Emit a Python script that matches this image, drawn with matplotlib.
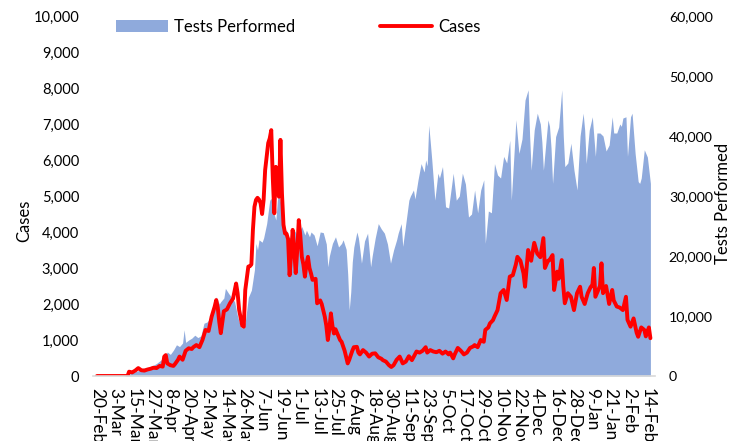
import matplotlib
matplotlib.use("Agg")
import matplotlib.pyplot as plt
from matplotlib.ticker import FuncFormatter

plt.rcParams['font.family'] = ['Lato', 'DejaVu Sans']

# x-axis category labels (every 12th day from 20-Feb)
tick_labels = ["20-Feb", "3-Mar", "15-Mar", "27-Mar", "8-Apr", "20-Apr", "2-May",
               "14-May", "26-May", "7-Jun", "19-Jun", "1-Jul", "13-Jul", "25-Jul",
               "6-Aug", "18-Aug", "30-Aug", "11-Sep", "23-Sep", "5-Oct", "17-Oct",
               "29-Oct", "10-Nov", "22-Nov", "4-Dec", "16-Dec", "28-Dec", "9-Jan",
               "21-Jan", "2-Feb", "14-Feb"]
tick_days = [12 * i for i in range(len(tick_labels))]

# Cases (left axis): day offset from 20-Feb, value
case_days = [0, 20, 21, 23, 25, 27, 29, 31, 33, 35, 37, 39, 41, 43, 44, 45, 46, 48, 50, 51,
             53, 54, 56, 58, 60, 62, 63, 65, 67, 69, 71, 73, 75, 77, 78, 79, 80, 81, 83, 85,
             87, 89, 91, 92, 93, 95, 96, 97, 99, 100, 101, 102, 103, 104, 105, 106, 107, 108, 109, 110,
             112, 113, 114, 115, 116, 117, 118, 119, 120, 121, 122, 123, 124, 125, 126, 127, 128, 129, 130, 131,
             132, 133, 134, 135, 136, 137, 138, 139, 140, 141, 143, 144, 146, 147, 149, 150, 151, 152, 153, 154,
             155, 156, 157, 159, 160, 162, 164, 165, 167, 168, 170, 171, 172, 174, 176, 178, 180, 182, 184, 186,
             187, 189, 191, 192.5, 194, 196, 198, 200, 202, 204, 206, 208, 209, 211, 213, 215, 216, 218, 220, 222,
             224, 226, 228, 230, 231, 233, 234, 236, 238, 240, 242, 244, 246, 247, 249, 251, 253, 254, 256, 257,
             259, 260, 262, 264, 266, 268, 270, 272, 274, 275, 277, 279, 280, 282, 284, 286, 288, 290, 292, 293,
             295, 296, 298, 299, 301, 302, 304, 305, 306, 308, 310, 312, 314, 316, 317, 319, 321, 323, 324, 325,
             326, 327, 328, 329, 330, 331, 333, 335, 337, 338, 340, 342, 344, 346, 347, 349, 351, 353, 354, 356,
             358, 359, 361, 362]
cases = [0, 0, 120, 100, 150, 220, 160, 150, 180, 200, 230, 220, 280, 260, 540, 580, 350, 300, 280, 330,
         450, 540, 450, 700, 770, 750, 800, 860, 800, 1000, 1280, 1250, 1650, 1930, 2110, 1900, 1500, 1190, 1800, 1850,
         2020, 2150, 2570, 2300, 1830, 1400, 1370, 2390, 3040, 3050, 3100, 4060, 4700, 4890, 4950, 4900, 4800, 4500, 4890, 5720,
         6470, 6600, 6830, 5500, 4520, 5810, 5300, 4980, 6560, 5070, 4200, 3960, 3950, 3800, 2800, 3400, 4060, 3500, 2860, 3500,
         4330, 3900, 3310, 3100, 2760, 3100, 3310, 3000, 2850, 2670, 2700, 2020, 2100, 2000, 1650, 1400, 1000, 1300, 1740, 1400,
         1180, 1300, 1200, 1000, 950, 700, 350, 450, 700, 800, 810, 650, 600, 720, 650, 540, 620, 630, 520, 480,
         440, 400, 300, 250, 300, 450, 540, 350, 400, 550, 440, 600, 680, 650, 700, 800, 650, 720, 680, 660,
         700, 620, 680, 600, 650, 490, 600, 780, 700, 600, 650, 780, 820, 860, 800, 1000, 950, 1280, 1350, 1460,
         1550, 1650, 1830, 2300, 2390, 2110, 2760, 2800, 3100, 3310, 3200, 2850, 2480, 3500, 3200, 3700, 3400, 3300, 3830, 3000,
         3200, 3220, 3360, 2390, 2900, 2700, 3220, 2500, 2020, 2300, 2200, 1830, 2300, 2480, 2200, 2000, 2300, 2480, 2500, 3000,
         2200, 2300, 2400, 2500, 3130, 2300, 2500, 2000, 2390, 2100, 1930, 1900, 1830, 2200, 1560, 1370, 1600, 1200, 1090, 1350,
         1280, 1100, 1350, 1050]

# Tests performed (right axis): day offset from 20-Feb, value
test_days = [0, 18, 21, 24, 27, 30, 33, 35, 37, 39, 42, 44, 46, 48, 50, 52, 54, 56, 57, 58,
             60, 62, 64, 66, 68, 70, 72, 74, 75, 77, 78, 80, 81, 83, 84, 86, 88, 90, 92, 94,
             95, 97, 99, 101, 103, 104, 105, 106, 108, 109, 111, 113, 114, 115, 117, 118, 119, 120, 121, 123,
             124, 125, 127, 129, 131, 132, 134, 136, 137, 139, 140, 142, 144, 146, 148, 150, 151, 152, 154, 156,
             158, 160, 161, 163, 164, 165, 166, 167, 168, 170, 171, 172, 173, 175, 177, 179, 180, 182, 184, 186,
             188, 190, 192, 194, 196, 197, 199, 200, 202, 204, 205, 207, 208, 210, 212, 214, 215, 216, 217, 218,
             219, 221, 223, 224, 226, 228, 230, 233, 235, 237, 239, 241, 243, 245, 247, 249, 251, 253, 254, 256,
             258, 260, 262, 264, 266, 268, 270, 271, 273, 274, 276, 278, 280, 282, 283, 284, 286, 288, 290, 291,
             292, 294, 295, 296, 297, 298, 300, 302, 304, 305, 306, 308, 310, 312, 314, 316, 318, 319, 320, 322,
             324, 326, 327, 329, 331, 333, 335, 337, 338, 340, 342, 343, 344, 346, 347, 349, 350, 352, 354, 355,
             356, 358, 360, 361, 362]
tests = [0, 0, 300, 600, 900, 1300, 1400, 1600, 1800, 2100, 2700, 3000, 4000, 3600, 4300, 5200, 4900, 5500, 7700, 5600,
         6000, 6300, 6800, 6400, 6700, 8800, 9000, 9600, 10200, 11500, 13200, 12000, 12400, 13000, 14600, 13800, 13100, 12400, 9900, 8200,
         8000, 9000, 13100, 14300, 17700, 22100, 21000, 22700, 22300, 23000, 25400, 29300, 29600, 27700, 26000, 29300, 30400, 29000, 27000, 23800,
         24400, 23200, 23000, 24300, 23500, 24000, 24900, 23500, 24300, 23200, 24000, 23500, 21700, 24000, 23900, 22000, 18200, 20000, 22100, 23200,
         21500, 22100, 22700, 21100, 17000, 11000, 14000, 19000, 21500, 24000, 23000, 21000, 18800, 22500, 23800, 18200, 20000, 23000, 25400, 24500,
         23800, 22000, 18800, 21000, 22700, 23800, 25400, 21600, 25400, 29300, 30000, 31000, 29500, 32700, 35400, 34000, 36000, 35000, 41800, 39000,
         36000, 29300, 33800, 33000, 34900, 28200, 28000, 33800, 29300, 30000, 33800, 32000, 26500, 27000, 31000, 27200, 31000, 32700, 22100, 27500,
         27200, 35400, 33500, 33000, 36600, 35500, 39300, 29300, 38000, 42700, 37100, 39500, 46000, 47700, 40000, 34300, 41000, 43800, 42000, 39000,
         34300, 40000, 42700, 41600, 38000, 32100, 39900, 41500, 47700, 40000, 34900, 35500, 38800, 34300, 31000, 40000, 43800, 41000, 35400, 41000,
         43200, 36600, 40500, 40500, 40000, 37500, 38500, 43200, 40500, 40500, 42000, 41600, 43000, 43200, 36600, 43200, 43800, 37100, 32400, 32100,
         33000, 37700, 36500, 34300, 32100]

W, H = 731, 441
fig = plt.figure(figsize=(W / 100, H / 100), dpi=100)
ax = fig.add_axes([93 / W, 65 / H, 562 / W, 360 / H])
ax2 = ax.twinx()

ax2.fill_between(test_days, tests, 0, color='#8FAADC', lw=0, label='Tests Performed')
ax.plot(case_days, cases, color='#FF0000', lw=2.8, solid_joinstyle='round',
        solid_capstyle='round', label='Cases')

ax.set_zorder(ax2.get_zorder() + 1)
ax.patch.set_visible(False)

ax.set_xlim(-2.6, 365)
ax.set_ylim(0, 10000)
ax2.set_ylim(0, 60000)
ax.set_yticks(range(0, 10001, 1000))
ax2.set_yticks(range(0, 60001, 10000))
fmt = FuncFormatter(lambda v, p: f"{int(v):,}")
ax.yaxis.set_major_formatter(fmt)
ax2.yaxis.set_major_formatter(fmt)

ax.set_xticks(tick_days)
ax.set_xticklabels(tick_labels, rotation=-90, fontsize=12.5, color='black')
ax.tick_params(axis='x', length=0, pad=9)
ax.tick_params(axis='y', length=0, pad=10, labelsize=10.5)
ax2.tick_params(axis='y', length=0, pad=10, labelsize=10.2)

for a in (ax, ax2):
    for s in ('top', 'left', 'right', 'bottom'):
        a.spines[s].set_visible(False)
ax.spines['bottom'].set_visible(True)
ax.spines['bottom'].set_color('#D9D9D9')
ax.spines['bottom'].set_linewidth(1.2)

ax.set_ylabel('Cases', fontsize=12)
ax.yaxis.set_label_coords(-0.108, 0.43)
ax2.set_ylabel('Tests Performed', fontsize=12)
ax2.yaxis.set_label_coords(1.106, 0.48)

h1, l1 = ax2.get_legend_handles_labels()
h2, l2 = ax.get_legend_handles_labels()
leg_kw = dict(frameon=False, fontsize=12, loc='center left', borderpad=0,
              borderaxespad=0, handlelength=3.1, handletextpad=0.4)
fig.legend(h1, l1, bbox_to_anchor=(116 / W, 1 - 27 / H), **leg_kw)
fig.legend(h2, l2, bbox_to_anchor=(380 / W, 1 - 27 / H), **leg_kw)

fig.savefig('out.png', dpi=100)
